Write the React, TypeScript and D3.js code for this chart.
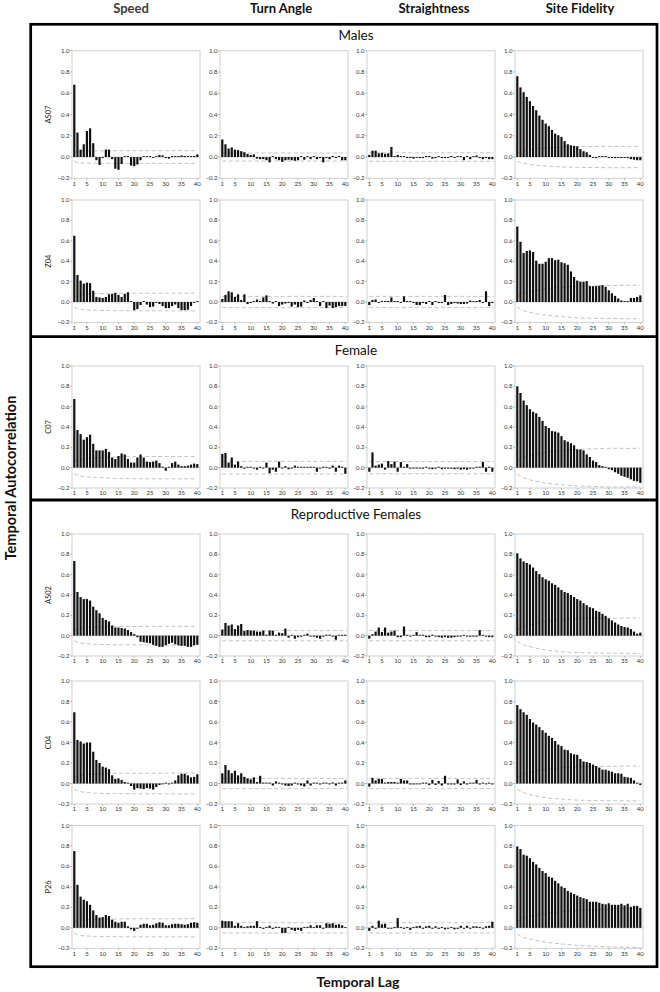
import * as d3 from 'd3';
import React from 'react';

// animals (rows), metrics (columns), groups (boxes)
const animals = ['AS07', 'Z04', 'C07', 'AS02', 'C04', 'P26'];
const metrics = ['Speed', 'Turn Angle', 'Straightness', 'Site Fidelity'];
const groups = ['Males', 'Female', 'Reproductive Females'];
const yTicks = [-0.2, 0, 0.2, 0.4, 0.6, 0.8, 1.0];
const xTicks = [1, 5, 10, 15, 20, 25, 30, 35, 40];
const bandLags = [1, 2, 3, 5, 8, 12, 16, 20, 25, 30, 40];

// ACF values, lags 1..40
const speedAS07 = [0.68, 0.23, 0.07, 0.12, 0.245, 0.27, 0.13, -0.03, -0.075, -0.01, 0.07, 0.07, -0.02, -0.11, -0.12, -0.065, 0, 0, -0.08, -0.085, -0.07, -0.03, 0, 0, 0, -0.005, 0, 0.02, 0.015, -0.01, -0.015, 0, 0.005, 0.01, 0.015, 0.01, 0, 0, 0.01, 0.025];
const turnAS07 = [0.165, 0.12, 0.08, 0.09, 0.07, 0.065, 0.055, 0.045, 0.03, 0.02, 0.025, -0.015, -0.02, -0.02, -0.03, -0.05, 0, -0.02, -0.03, -0.045, -0.03, -0.025, -0.03, -0.035, -0.03, 0, -0.025, 0, -0.02, 0, -0.02, -0.01, -0.05, -0.01, -0.02, 0.01, -0.01, 0.01, -0.03, -0.03];
const straightAS07 = [0.02, 0.06, 0.06, 0.035, 0.04, 0.03, 0.035, 0.095, 0.005, 0.02, 0, 0, -0.01, -0.01, -0.015, -0.005, -0.01, -0.01, 0.01, 0.01, -0.015, -0.01, 0.005, -0.01, -0.01, -0.005, 0.01, -0.005, 0, 0, -0.03, 0, -0.02, 0.005, 0.015, -0.01, -0.02, -0.01, -0.02, -0.02];
const fidelityAS07 = [0.76, 0.655, 0.61, 0.565, 0.525, 0.48, 0.44, 0.39, 0.35, 0.315, 0.29, 0.255, 0.22, 0.205, 0.19, 0.15, 0.12, 0.11, 0.105, 0.1, 0.075, 0.055, 0.045, 0.02, -0.005, -0.01, 0, 0, 0, -0.005, -0.01, -0.01, -0.005, -0.01, -0.005, -0.01, -0.02, -0.025, -0.03, -0.03];

const speedZ04 = [0.65, 0.265, 0.21, 0.18, 0.19, 0.185, 0.11, 0.05, 0.045, 0.04, 0.05, 0.075, 0.08, 0.09, 0.07, 0.05, 0.08, 0.095, 0, -0.08, -0.07, -0.03, 0, -0.025, -0.05, -0.045, -0.005, -0.02, -0.04, -0.06, -0.06, -0.04, -0.025, -0.06, -0.08, -0.08, -0.075, -0.04, -0.005, 0.005];
const turnZ04 = [0.03, 0.07, 0.105, 0.095, 0.05, 0.075, 0.02, 0.075, -0.02, -0.01, 0, 0.025, 0.01, 0.045, 0.065, 0, -0.015, 0, -0.04, -0.025, -0.015, -0.01, -0.045, -0.025, -0.05, -0.045, 0.015, -0.01, 0.02, 0.04, 0, -0.04, 0, -0.06, -0.035, -0.06, -0.05, -0.04, -0.04, -0.04];
const straightZ04 = [-0.03, 0.02, 0.025, -0.005, 0.005, 0.005, 0.01, 0.045, 0, 0, -0.005, 0.055, 0, 0, -0.01, -0.03, -0.03, -0.01, -0.02, 0, -0.03, 0, -0.01, -0.01, 0.07, -0.03, -0.02, -0.01, -0.015, -0.02, -0.02, -0.015, 0.015, 0, 0.01, 0.02, -0.005, 0.105, -0.04, -0.01];
const fidelityZ04 = [0.74, 0.59, 0.48, 0.5, 0.505, 0.49, 0.405, 0.375, 0.375, 0.395, 0.43, 0.43, 0.41, 0.415, 0.39, 0.38, 0.365, 0.3, 0.245, 0.21, 0.2, 0.2, 0.205, 0.155, 0.155, 0.155, 0.16, 0.165, 0.15, 0.115, 0.085, 0.06, 0.035, 0.015, 0.005, 0, 0.04, 0.04, 0.05, 0.065];

const speedC07 = [0.675, 0.37, 0.33, 0.275, 0.3, 0.325, 0.235, 0.17, 0.17, 0.17, 0.185, 0.155, 0.1, 0.085, 0.115, 0.14, 0.13, 0.085, 0.05, 0.05, 0.1, 0.13, 0.1, 0.06, 0.055, 0.06, 0.07, 0.045, 0.01, -0.03, 0, 0.045, 0.06, 0.03, 0.015, 0.015, 0.02, 0.03, 0.04, 0.035];
const turnC07 = [0.135, 0.145, 0.05, 0.1, 0.03, 0.06, 0.015, -0.01, 0, 0, -0.005, -0.02, 0, -0.005, 0.05, -0.055, -0.02, -0.04, 0.06, -0.005, 0.015, -0.015, -0.005, 0.02, 0.005, 0.005, 0, 0.005, 0.01, 0, -0.04, -0.005, 0.01, 0, -0.01, 0.02, -0.04, 0.02, 0.01, -0.06];
const straightC07 = [-0.04, 0.15, 0.02, 0.03, 0.04, -0.02, 0.065, 0.035, 0.06, -0.04, 0.055, 0, 0.035, -0.01, -0.005, -0.005, -0.005, -0.01, 0.005, -0.01, -0.015, -0.01, 0, -0.015, -0.01, -0.01, -0.01, -0.015, -0.01, -0.02, -0.015, -0.02, -0.01, -0.005, 0, 0.01, 0.055, -0.04, 0.01, -0.04];
const fidelityC07 = [0.8, 0.735, 0.66, 0.615, 0.575, 0.55, 0.535, 0.5, 0.46, 0.41, 0.39, 0.36, 0.355, 0.345, 0.31, 0.27, 0.255, 0.24, 0.22, 0.18, 0.18, 0.17, 0.13, 0.105, 0.07, 0.055, 0.025, 0.015, 0, -0.015, -0.025, -0.045, -0.06, -0.08, -0.09, -0.1, -0.115, -0.13, -0.135, -0.15];

const speedAS02 = [0.735, 0.43, 0.38, 0.36, 0.36, 0.345, 0.285, 0.25, 0.22, 0.175, 0.155, 0.14, 0.1, 0.08, 0.08, 0.075, 0.07, 0.055, 0.035, 0.015, -0.015, -0.06, -0.065, -0.07, -0.075, -0.09, -0.1, -0.11, -0.11, -0.095, -0.08, -0.07, -0.085, -0.095, -0.1, -0.1, -0.11, -0.11, -0.095, -0.09];
const turnAS02 = [0.06, 0.125, 0.1, 0.11, 0.065, 0.1, 0.115, 0.045, 0.055, 0.05, 0.05, 0.04, 0.04, 0.05, 0.01, 0.05, 0.05, 0.005, 0.03, 0.025, 0.07, -0.02, 0, -0.03, -0.015, -0.01, 0, 0.02, -0.005, -0.01, -0.02, -0.03, -0.01, 0.01, 0.01, -0.005, -0.04, 0, 0, 0.01];
const straightAS02 = [-0.03, 0.015, 0.04, 0.08, 0.035, 0.08, 0.03, 0.04, 0.05, -0.015, -0.015, 0.09, 0.005, -0.005, 0, 0.035, 0.005, 0, -0.015, -0.015, 0.01, -0.005, -0.015, -0.02, -0.015, -0.02, -0.02, -0.015, -0.01, -0.005, 0, -0.005, -0.01, -0.01, -0.01, 0.055, 0, -0.01, -0.015, -0.015];
const fidelityAS02 = [0.81, 0.76, 0.73, 0.715, 0.7, 0.67, 0.635, 0.605, 0.575, 0.555, 0.54, 0.515, 0.5, 0.475, 0.45, 0.43, 0.42, 0.4, 0.38, 0.36, 0.345, 0.32, 0.3, 0.28, 0.27, 0.245, 0.235, 0.215, 0.195, 0.17, 0.15, 0.13, 0.11, 0.095, 0.085, 0.08, 0.065, 0.04, 0.02, 0.03];

const speedC04 = [0.695, 0.425, 0.41, 0.39, 0.4, 0.4, 0.31, 0.23, 0.2, 0.165, 0.155, 0.14, 0.08, 0.045, 0.05, 0.035, 0.015, 0, -0.025, -0.06, -0.045, -0.05, -0.055, -0.045, -0.05, -0.06, -0.035, -0.015, -0.005, 0, -0.005, 0, 0.03, 0.08, 0.095, 0.095, 0.08, 0.06, 0.065, 0.09];
const turnC04 = [0.1, 0.18, 0.13, 0.1, 0.125, 0.08, 0.1, 0.065, 0.05, 0.04, 0.06, 0.015, 0.075, 0, 0.005, 0.005, -0.02, 0.02, 0, -0.01, -0.02, -0.025, -0.02, 0.005, -0.01, -0.02, -0.03, 0.03, -0.02, 0, 0, -0.01, 0.005, 0, -0.005, 0.01, -0.02, 0, 0, 0.03];
const straightC04 = [-0.03, 0.055, 0.03, 0.045, 0.045, 0, 0.015, 0.015, 0.015, 0, 0.045, 0.03, 0.03, -0.01, -0.01, -0.005, -0.005, 0, 0, -0.015, 0.035, -0.015, 0.025, -0.02, 0.075, -0.01, -0.01, -0.01, 0.04, -0.015, 0.02, -0.01, 0.005, 0.005, 0.035, -0.01, 0.005, -0.005, 0, -0.01];
const fidelityC04 = [0.765, 0.725, 0.695, 0.67, 0.63, 0.595, 0.575, 0.55, 0.52, 0.495, 0.465, 0.445, 0.415, 0.38, 0.365, 0.33, 0.325, 0.295, 0.285, 0.28, 0.24, 0.215, 0.21, 0.2, 0.185, 0.17, 0.155, 0.135, 0.135, 0.125, 0.115, 0.1, 0.1, 0.095, 0.065, 0.06, 0.055, 0.03, 0.005, -0.015];

const speedP26 = [0.75, 0.42, 0.305, 0.275, 0.26, 0.225, 0.17, 0.125, 0.1, 0.105, 0.125, 0.115, 0.08, 0.06, 0.05, 0.06, 0.06, 0.015, -0.015, -0.03, -0.005, 0.03, 0.04, 0.04, 0.025, 0.03, 0.045, 0.055, 0.05, 0.025, 0.025, 0.035, 0.04, 0.04, 0.035, 0.03, 0.035, 0.05, 0.055, 0.05];
const turnP26 = [0.07, 0.065, 0.065, 0.065, 0.02, 0.045, 0.02, 0, 0.015, 0.02, 0.02, 0.065, 0, -0.01, 0, 0.02, -0.01, 0.01, 0.005, -0.05, -0.05, 0, -0.02, -0.03, -0.02, -0.03, 0.005, 0.01, 0.025, 0, 0.025, 0.025, -0.005, 0.045, 0.04, 0.045, 0.03, 0.035, 0.025, 0.005];
const straightP26 = [-0.03, 0.02, -0.01, 0.07, 0.035, 0.04, -0.005, -0.005, 0, 0.095, 0, -0.005, 0, -0.02, 0, 0.015, 0.02, -0.005, 0.015, 0.02, -0.005, 0.015, -0.01, 0.005, -0.015, -0.005, 0, -0.015, -0.01, 0.02, -0.005, 0.02, -0.005, 0.015, 0.015, 0.01, -0.005, 0.015, 0.02, 0.06];
const fidelityP26 = [0.795, 0.77, 0.715, 0.705, 0.68, 0.645, 0.62, 0.585, 0.555, 0.535, 0.5, 0.49, 0.46, 0.435, 0.405, 0.39, 0.36, 0.345, 0.33, 0.315, 0.3, 0.29, 0.28, 0.255, 0.255, 0.255, 0.245, 0.235, 0.23, 0.24, 0.225, 0.225, 0.225, 0.235, 0.22, 0.235, 0.205, 0.215, 0.215, 0.195];

// confidence band half-widths read at bandLags
const bandSpeedAS07 = [0.038, 0.052, 0.055, 0.057, 0.058, 0.059, 0.06, 0.06, 0.06, 0.06, 0.06];
const bandFidelityAS07 = [0.04, 0.05, 0.058, 0.07, 0.08, 0.088, 0.094, 0.097, 0.099, 0.1, 0.1];
const bandSpeedZ04 = [0.05, 0.065, 0.072, 0.078, 0.082, 0.084, 0.085, 0.086, 0.086, 0.087, 0.087];
const bandFidelityZ04 = [0.05, 0.07, 0.085, 0.1, 0.12, 0.135, 0.145, 0.155, 0.16, 0.162, 0.165];
const bandSpeedC07 = [0.06, 0.075, 0.083, 0.09, 0.097, 0.103, 0.106, 0.108, 0.11, 0.11, 0.11];
const bandFidelityC07 = [0.065, 0.085, 0.1, 0.12, 0.14, 0.16, 0.17, 0.18, 0.185, 0.19, 0.19];
const bandSpeedAS02 = [0.05, 0.065, 0.072, 0.08, 0.085, 0.088, 0.09, 0.09, 0.091, 0.092, 0.093];
const bandFidelityAS02 = [0.055, 0.075, 0.09, 0.108, 0.13, 0.148, 0.16, 0.166, 0.17, 0.172, 0.175];
const bandSpeedC04 = [0.055, 0.072, 0.08, 0.088, 0.094, 0.098, 0.1, 0.1, 0.1, 0.101, 0.102];
const bandFidelityC04 = [0.055, 0.075, 0.09, 0.108, 0.128, 0.145, 0.155, 0.162, 0.166, 0.168, 0.17];
const bandSpeedP26 = [0.05, 0.068, 0.075, 0.08, 0.084, 0.086, 0.087, 0.088, 0.088, 0.088, 0.089];
const bandFidelityP26 = [0.06, 0.08, 0.095, 0.11, 0.13, 0.148, 0.16, 0.17, 0.178, 0.185, 0.192];
// flat bands for turn angle / straightness
const bandTurn = [0.038, 0.055, 0.062, 0.05, 0.05, 0.05];
const bandStraight = [0.04, 0.055, 0.06, 0.05, 0.05, 0.05];

const rowsData = [
  [speedAS07, turnAS07, straightAS07, fidelityAS07],
  [speedZ04, turnZ04, straightZ04, fidelityZ04],
  [speedC07, turnC07, straightC07, fidelityC07],
  [speedAS02, turnAS02, straightAS02, fidelityAS02],
  [speedC04, turnC04, straightC04, fidelityC04],
  [speedP26, turnP26, straightP26, fidelityP26],
];
const rowsBands = [
  [bandSpeedAS07, bandTurn[0], bandStraight[0], bandFidelityAS07],
  [bandSpeedZ04, bandTurn[1], bandStraight[1], bandFidelityZ04],
  [bandSpeedC07, bandTurn[2], bandStraight[2], bandFidelityC07],
  [bandSpeedAS02, bandTurn[3], bandStraight[3], bandFidelityAS02],
  [bandSpeedC04, bandTurn[4], bandStraight[4], bandFidelityC04],
  [bandSpeedP26, bandTurn[5], bandStraight[5], bandFidelityP26],
];

// layout
const W = 660;
const H = 992;
const colLeft = [72, 220, 367, 515];
const colWidth = 128;
const rowTop = [50.7, 200, 366, 534, 681, 825.5];
const rowBottom = [178.3, 322.4, 488, 656, 804, 948.3];
const headerX = [131, 281, 434, 580];
const groupY = [39.5, 355, 518.5];
const font = "Lato, 'Open Sans', sans-serif";

interface PanelProps {
  left: number;
  top: number;
  bottom: number;
  values: number[];
  band: number[] | number;
  label?: string;
}

const Panel = ({ left, top, bottom, values, band, label }: PanelProps) => {
  const x = d3.scaleLinear().domain([0.27, 40.85]).range([left, left + colWidth]);
  const y = d3.scaleLinear().domain([-0.2, 1.0]).range([bottom, top]);
  const pts: [number, number][] = Array.isArray(band)
    ? bandLags.map((l, i) => [l, band[i]])
    : [[1, band], [40.5, band]];
  const line = d3
    .line<[number, number]>()
    .x(d => x(d[0]))
    .y(d => y(d[1]))
    .curve(d3.curveMonotoneX);
  const lower = pts.map(d => [d[0], -d[1]] as [number, number]);
  const bw = 2.2;
  return (
    <g>
      <rect x={left} y={top} width={colWidth} height={bottom - top} fill="#fff" stroke="#d0d0d0" strokeWidth={1} />
      <line x1={left} x2={left + colWidth} y1={y(0)} y2={y(0)} stroke="#c8c8c8" strokeWidth={0.8} />
      <path d={line(pts) || ''} fill="none" stroke="#c4c4c4" strokeWidth={1} strokeDasharray="4,2.5" />
      <path d={line(lower) || ''} fill="none" stroke="#c4c4c4" strokeWidth={1} strokeDasharray="4,2.5" />
      {values.map((v, i) => {
        const y0 = y(Math.max(0, v));
        const y1 = y(Math.min(0, v));
        const h = Math.max(0.9, y1 - y0);
        return <rect key={i} x={x(i + 1) - bw / 2} y={v >= 0 ? y1 - h : y0} width={bw} height={h} fill="#111" />;
      })}
      {yTicks.map(t => (
        <g key={t}>
          <line x1={left - 2} x2={left} y1={y(t)} y2={y(t)} stroke="#999" strokeWidth={0.6} />
          <text x={left - 2.5} y={y(t) + 2} fontSize={6} textAnchor="end" fill="#333" fontFamily={font}>
            {d3.format('.1f')(t)}
          </text>
        </g>
      ))}
      {xTicks.map(t => (
        <g key={t}>
          <line x1={x(t)} x2={x(t)} y1={bottom} y2={bottom + 2} stroke="#999" strokeWidth={0.6} />
          <text x={x(t)} y={bottom + 7.3} fontSize={6} textAnchor="middle" fill="#333" fontFamily={font}>
            {t}
          </text>
        </g>
      ))}
      {label && (
        <text
          transform={`translate(${left - 21},${(top + bottom) / 2}) rotate(-90)`}
          fontSize={7.5}
          textAnchor="middle"
          fill="#222"
          fontFamily={font}
        >
          {label}
        </text>
      )}
    </g>
  );
};

const App = () => {
  return (
    <svg width={W} height={H} style={{ position: 'absolute', left: 0, top: 0, background: '#fff' }}>
      {metrics.map((m, i) => (
        <text key={m} x={headerX[i]} y={13} fontSize={13} fontWeight="bold" textAnchor="middle" fill={i === 0 ? '#3c3c3c' : '#111'} fontFamily={font}>
          {m}
        </text>
      ))}
      <rect x={30.7} y={24.3} width={626.3} height={942.4} fill="none" stroke="#000" strokeWidth={2.7} />
      <line x1={30.7} x2={657} y1={336.7} y2={336.7} stroke="#000" strokeWidth={2.7} />
      <line x1={30.7} x2={657} y1={500} y2={500} stroke="#000" strokeWidth={3.2} />
      {groups.map((g, i) => (
        <text key={g} x={356} y={groupY[i]} fontSize={13.5} textAnchor="middle" fill="#111" fontFamily={font}>
          {g}
        </text>
      ))}
      {rowsData.map((row, r) =>
        row.map((vals, c) => (
          <Panel
            key={`${r}-${c}`}
            left={colLeft[c]}
            top={rowTop[r]}
            bottom={rowBottom[r]}
            values={vals}
            band={rowsBands[r][c]}
            label={c === 0 ? animals[r] : undefined}
          />
        ))
      )}
      <text transform="translate(15.5,478) rotate(-90)" fontSize={14.5} fontWeight="bold" textAnchor="middle" fill="#111" fontFamily={font}>
        Temporal Autocorrelation
      </text>
      <text x={358} y={987} fontSize={14} fontWeight="bold" textAnchor="middle" fill="#111" fontFamily={font}>
        Temporal Lag
      </text>
    </svg>
  );
};

export default App;
